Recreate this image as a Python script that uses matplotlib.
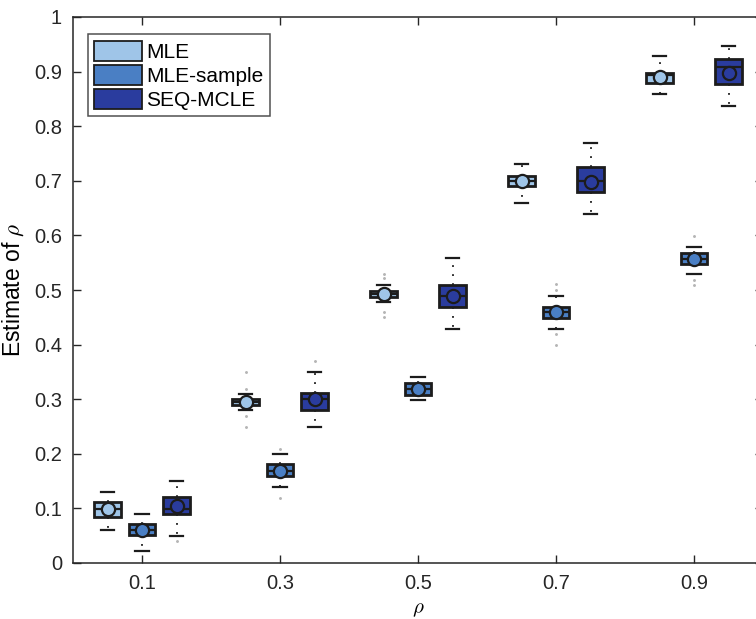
import matplotlib.pyplot as plt
from matplotlib.patches import Patch

plt.rcParams['font.family'] = ['Liberation Sans', 'DejaVu Sans']
plt.rcParams['mathtext.fontset'] = 'cm'

rho = [0.1, 0.3, 0.5, 0.7, 0.9]
labels = ['MLE', 'MLE-sample', 'SEQ-MCLE']
colors = ['#9fc5e8', '#4a7fc4', '#2a3c9e']
offsets = [-0.05, 0.0, 0.05]

# per rho: [lower whisker, q1, median, q3, upper whisker, mean]
mle = [[0.060, 0.084, 0.099, 0.112, 0.130, 0.099],
       [0.280, 0.289, 0.295, 0.300, 0.310, 0.295],
       [0.478, 0.487, 0.493, 0.499, 0.510, 0.493],
       [0.660, 0.690, 0.700, 0.708, 0.730, 0.700],
       [0.859, 0.879, 0.894, 0.897, 0.929, 0.890]]
mle_sample = [[0.022, 0.051, 0.060, 0.071, 0.090, 0.060],
              [0.139, 0.159, 0.169, 0.181, 0.200, 0.169],
              [0.299, 0.308, 0.318, 0.329, 0.340, 0.318],
              [0.429, 0.449, 0.459, 0.469, 0.489, 0.460],
              [0.529, 0.548, 0.557, 0.568, 0.579, 0.557]]
seq_mcle = [[0.050, 0.090, 0.099, 0.121, 0.150, 0.104],
            [0.249, 0.280, 0.300, 0.311, 0.350, 0.300],
            [0.429, 0.469, 0.489, 0.509, 0.559, 0.489],
            [0.640, 0.680, 0.700, 0.725, 0.770, 0.698],
            [0.837, 0.877, 0.908, 0.923, 0.947, 0.897]]

# outlying points
mle_out = [[], [0.350, 0.319, 0.270, 0.249], [0.530, 0.522, 0.460, 0.450], [], []]
mle_sample_out = [[], [0.209, 0.119], [], [0.511, 0.500, 0.419, 0.399], [0.599, 0.518, 0.509]]
seq_mcle_out = [[0.040], [0.370], [], [], []]

fig = plt.figure(figsize=(7.56, 6.19), dpi=100)
ax = fig.add_axes([73 / 756, 1 - 563 / 619, 690 / 756, 546 / 619])

edge = '#1c1c1c'
for stats_rows, outs, color, off in zip([mle, mle_sample, seq_mcle],
                                       [mle_out, mle_sample_out, seq_mcle_out],
                                       colors, offsets):
    stats = []
    for row, fl in zip(stats_rows, outs):
        lo, q1, med, q3, hi, mean = row
        stats.append(dict(whislo=lo, q1=q1, med=med, q3=q3, whishi=hi,
                          mean=mean, fliers=fl))
    ax.bxp(stats, positions=[r + off for r in rho], widths=0.038,
           capwidths=0.02, patch_artist=True, showmeans=True,
           boxprops=dict(facecolor=color, edgecolor=edge, linewidth=2.0),
           medianprops=dict(color=edge, linewidth=1.6),
           whiskerprops=dict(color=edge, linewidth=1.3, linestyle=(0, (1, 4))),
           capprops=dict(color=edge, linewidth=1.6),
           meanprops=dict(marker='o', markerfacecolor=color, markeredgecolor=edge,
                          markeredgewidth=1.6, markersize=9.5),
           flierprops=dict(marker='.', markerfacecolor='#b5b5b5',
                           markeredgecolor='#b5b5b5', markersize=2.2))

ax.set_xlim(0, 1)
ax.set_ylim(0, 1)
ax.set_xticks(rho)
ax.set_xticklabels(['0.1', '0.3', '0.5', '0.7', '0.9'])
ax.set_yticks([i / 10 for i in range(11)])
ax.set_yticklabels(['0'] + ['0.%d' % i for i in range(1, 10)] + ['1'])
ax.tick_params(direction='in', length=6, width=1, labelsize=14.5, colors='#262626',
               top=True, right=True, pad=8)
for s in ax.spines.values():
    s.set_color('#262626')
    s.set_linewidth(1.1)

ax.set_xlabel(r'$\rho$', fontsize=15, labelpad=5)
ax.set_ylabel(r'Estimate of $\rho$', fontsize=16.5, labelpad=6)

handles = [Patch(facecolor=c, edgecolor=edge, linewidth=1.3) for c in colors]
ax.legend(handles, labels, loc='upper left', bbox_to_anchor=(0.022, 0.968),
          fontsize=15, frameon=True, fancybox=False, edgecolor='#262626',
          handlelength=2.3, handleheight=1.15, handletextpad=0.2,
          labelspacing=0.12, borderpad=0.3, borderaxespad=0.0)
ax.get_legend().get_frame().set_linewidth(1.1)

fig.savefig('out.png', dpi=100)
